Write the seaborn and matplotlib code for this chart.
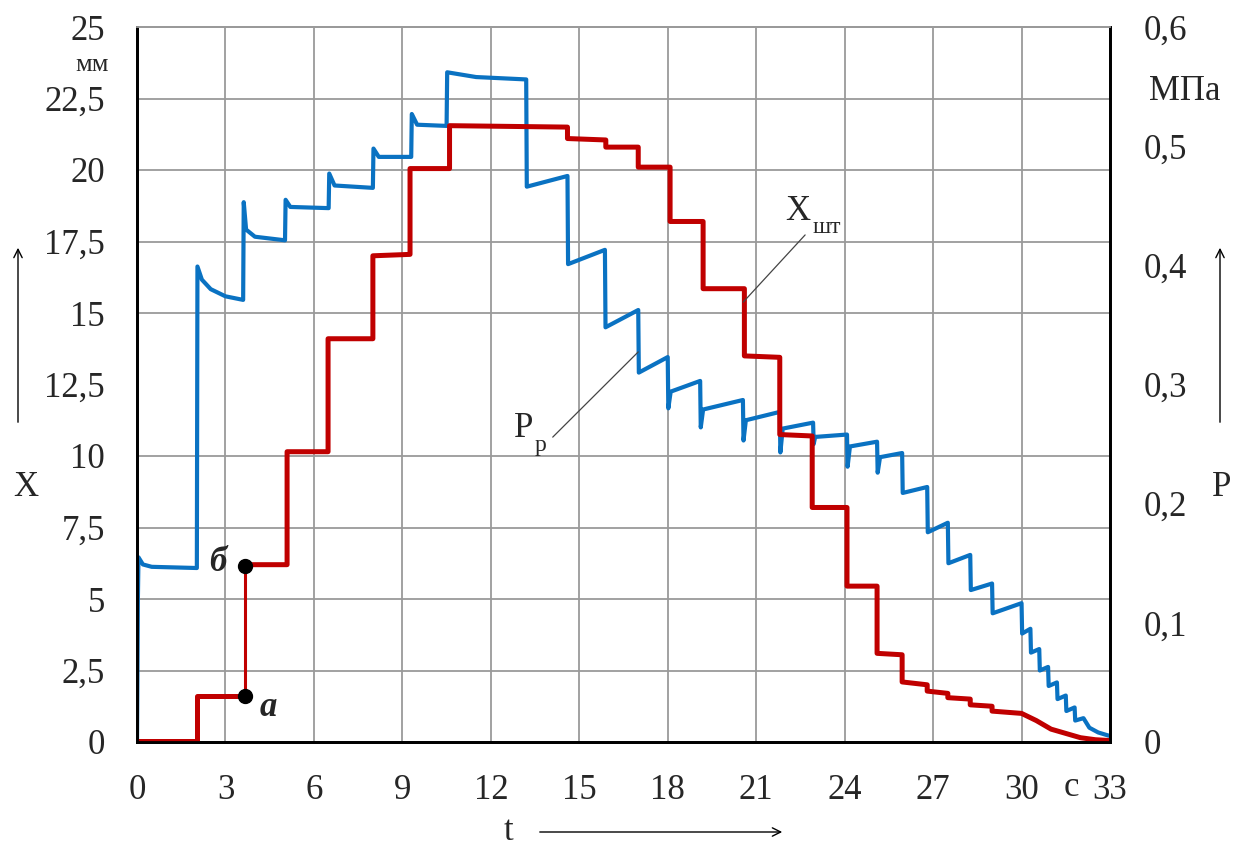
import numpy as np
import matplotlib
matplotlib.use("Agg")
import matplotlib.pyplot as plt
import seaborn as sns

# ── Data ──────────────────────────────────────────────────────────────────────

# stroke of the rod X_шт, mm (left axis)
t_rod = [0.0, 2.03, 2.03, 3.66]
x_rod = [0.05, 0.05, 1.6, 1.6]
t_rod2 = [3.66, 5.09, 5.09, 6.48, 6.48, 8.0, 8.0, 9.26, 9.26, 10.6, 10.6, 14.6,
          14.6, 15.9, 15.9, 17.0, 17.0, 18.08, 18.08, 19.2, 19.2, 20.6, 20.6,
          21.8, 21.8, 22.9, 22.9, 24.08, 24.08, 25.1, 25.1, 25.95, 25.95, 26.8,
          26.8, 27.5, 27.5, 28.26, 28.26, 29.0, 29.0, 30.0, 30.5, 31.0, 31.5,
          32.0, 32.5, 33.0]
x_rod2 = [6.2, 6.2, 10.15, 10.15, 14.1, 14.1, 17.0, 17.05, 20.05, 20.05, 21.55,
          21.5, 21.1, 21.05, 20.8, 20.8, 20.1, 20.1, 18.2, 18.2, 15.85, 15.85,
          13.5, 13.45, 10.75, 10.7, 8.2, 8.2, 5.45, 5.45, 3.1, 3.05, 2.1, 2.0,
          1.78, 1.7, 1.55, 1.5, 1.3, 1.25, 1.08, 1.0, 0.75, 0.45, 0.3, 0.15,
          0.08, 0.05]
# jump a -> б
t_ab = [3.66, 3.66]
x_ab = [1.6, 6.15]

# pressure P_р, MPa (right axis)
t_pr = [0.0, 0.03, 0.05, 0.2, 0.5, 2.03, 2.05, 2.2, 2.5, 3.0, 3.6, 3.62, 3.7,
        4.0, 5.02, 5.04, 5.2, 6.5, 6.52, 6.7, 8.0, 8.02, 8.2, 9.3, 9.32, 9.5,
        10.5, 10.52, 11.5, 13.2, 13.22, 14.6, 14.62, 15.87, 15.89, 17.0, 17.02,
        18.0, 18.02, 18.1, 19.1, 19.12, 19.2, 20.55, 20.57, 20.65, 21.8, 21.82,
        21.9, 22.93, 22.95, 23.0, 24.08, 24.1, 24.18, 25.1, 25.12, 25.2, 25.95,
        25.97, 26.8, 26.82, 27.5, 27.52, 28.26, 28.28, 29.0, 29.02, 30.0, 30.02,
        30.3, 30.32, 30.6, 30.62, 30.9, 30.92, 31.2, 31.22, 31.5, 31.52, 31.8,
        31.82, 32.1, 32.3, 32.6, 33.0]
p_pr = [0.0, 0.12, 0.155, 0.149, 0.147, 0.146, 0.399, 0.388, 0.38, 0.374,
        0.371, 0.453, 0.43, 0.424, 0.421, 0.455, 0.449, 0.448, 0.477, 0.467,
        0.465, 0.498, 0.491, 0.491, 0.527, 0.518, 0.517, 0.562, 0.558, 0.556,
        0.466, 0.475, 0.401, 0.413, 0.348, 0.3625, 0.31, 0.323, 0.28, 0.294,
        0.303, 0.264, 0.279, 0.287, 0.253, 0.27, 0.277, 0.243, 0.263, 0.268,
        0.25, 0.256, 0.258, 0.231, 0.248, 0.252, 0.226, 0.239, 0.2425, 0.209,
        0.214, 0.176, 0.184, 0.15, 0.157, 0.1275, 0.133, 0.108, 0.1165, 0.091,
        0.095, 0.075, 0.078, 0.06, 0.063, 0.047, 0.05, 0.036, 0.039, 0.026,
        0.029, 0.018, 0.02, 0.012, 0.008, 0.005]

t_ticks = [0, 3, 6, 9, 12, 15, 18, 21, 24, 27, 30, 33]
x_ticks = [0, 2.5, 5, 7.5, 10, 12.5, 15, 17.5, 20, 22.5, 25]
x_labels = ["0", "2,5", "5", "7,5", "10", "12,5", "15", "17,5", "20", "22,5", "25"]
p_ticks = [0, 0.1, 0.2, 0.3, 0.4, 0.5, 0.6]
p_labels = ["0", "0,1", "0,2", "0,3", "0,4", "0,5", "0,6"]

RED = "#C00000"
BLUE = "#0A72C2"
GRID = "#9A9A9A"
FS = 25

# ── Figure ────────────────────────────────────────────────────────────────────

sns.set_style("white")
plt.rcParams["font.family"] = ["Liberation Serif", "DejaVu Serif"]

fig = plt.figure(figsize=(12.37, 8.5), dpi=100)
ax = fig.add_axes([137 / 1237, 1 - 742 / 850, 973 / 1237, 715 / 850])
ax2 = ax.twinx()

# grid lives on ax2 so it sits under both curves
ax2.set_zorder(0)
ax.set_zorder(1)
ax.patch.set_visible(False)
ax2.patch.set_facecolor("white")

for tv in t_ticks[1:-1]:
    ax2.axvline(tv, color=GRID, linewidth=1.3, zorder=0.5)

sns.lineplot(x=t_pr, y=p_pr, ax=ax2, sort=False, estimator=None,
             color=BLUE, linewidth=3.0)
sns.lineplot(x=t_rod, y=x_rod, ax=ax, sort=False, estimator=None,
             color=RED, linewidth=3.6)
sns.lineplot(x=t_rod2, y=x_rod2, ax=ax, sort=False, estimator=None,
             color=RED, linewidth=3.6)
sns.lineplot(x=t_ab, y=x_ab, ax=ax, sort=False, estimator=None,
             color=RED, linewidth=2.2)
ax.plot([t_ab[0], t_ab[1]], [x_ab[0], x_ab[1]], "o", color="black",
        markersize=10, zorder=5)

ax.set_xlim(0, 33)
ax.set_ylim(0, 25)
ax2.set_ylim(0, 0.6)

ax.set_xticks(t_ticks)
ax.set_xticklabels([str(v) for v in t_ticks])
ax.set_yticks(x_ticks)
ax.set_yticklabels(x_labels)
ax2.set_yticks(p_ticks)
ax2.set_yticklabels(p_labels)
ax.tick_params(axis="both", length=0, labelsize=FS)
ax.tick_params(axis="y", pad=23)
ax.tick_params(axis="x", pad=23)
ax2.tick_params(axis="y", length=0, labelsize=FS, pad=24)

ax.grid(False)
ax2.set_yticks(np.linspace(0, 0.6, 11), minor=True)
ax2.grid(which="minor", axis="y", color=GRID, linewidth=1.3)
ax2.grid(which="major", axis="y", visible=False)
ax2.tick_params(which="minor", length=0)

for a in (ax, ax2):
    a.set_xlabel("")
    a.set_ylabel("")
    for side in ("left", "right", "bottom"):
        a.spines[side].set_color("black")
        a.spines[side].set_linewidth(2.0)
    a.spines["top"].set_color(GRID)
    a.spines["top"].set_linewidth(1.3)

# point labels
ax.text(2.75, 6.26, "б", fontsize=FS, fontweight="bold", fontstyle="italic",
        ha="center", va="center")
ax.text(4.44, 1.2, "а", fontsize=FS, fontweight="bold", fontstyle="italic",
        ha="center", va="center")

# curve labels with leader lines
ax.plot([20.56, 22.66], [15.38, 17.73], color="#444444", linewidth=0.9)
ax.text(22.4, 18.55, "X", fontsize=FS, ha="center", va="center")
ax.text(23.4, 18.0, "шт", fontsize=17, ha="center", va="center")
ax.plot([14.1, 17.0], [10.66, 13.64], color="#444444", linewidth=0.9)
ax.text(13.1, 10.95, "P", fontsize=FS, ha="center", va="center")
ax.text(13.7, 10.35, "р", fontsize=17, ha="center", va="center")

# axis names, units and arrows
fig.text(92 / 1237, 1 - 65 / 850, "мм", fontsize=19, ha="center", va="center")
fig.text(1185 / 1237, 1 - 91 / 850, "МПа", fontsize=FS, ha="center", va="center")
fig.text(26 / 1237, 1 - 487 / 850, "X", fontsize=FS, ha="center", va="center")
fig.text(1222 / 1237, 1 - 487 / 850, "P", fontsize=FS, ha="center", va="center")
fig.text(508 / 1237, 1 - 831 / 850, "t", fontsize=FS, ha="center", va="center")
fig.text(1071 / 1237, 1 - 788 / 850, "с", fontsize=FS, ha="center", va="center")

arrow = dict(arrowstyle="->", color="black", linewidth=1.0, mutation_scale=15)
plt.annotate("", xy=(18 / 1237, 1 - 245 / 850), xytext=(18 / 1237, 1 - 425 / 850),
             xycoords="figure fraction", arrowprops=arrow)
plt.annotate("", xy=(1220 / 1237, 1 - 245 / 850), xytext=(1220 / 1237, 1 - 425 / 850),
             xycoords="figure fraction", arrowprops=arrow)
plt.annotate("", xy=(785 / 1237, 1 - 832 / 850), xytext=(537 / 1237, 1 - 832 / 850),
             xycoords="figure fraction", arrowprops=arrow)

fig.savefig("out.png", dpi=100, facecolor="white")
plt.close(fig)
